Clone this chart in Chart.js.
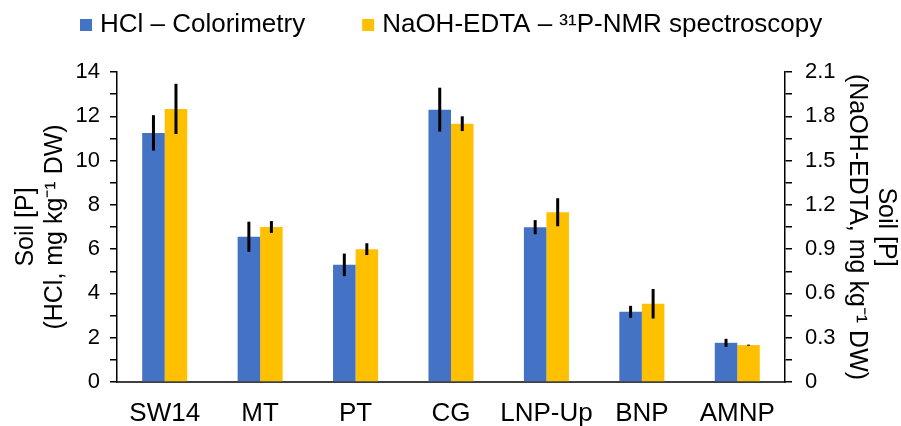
<!DOCTYPE html>
<html>
<head>
<meta charset="utf-8">
<script src="https://cdn.jsdelivr.net/npm/chart.js@4.4.1/dist/chart.umd.min.js"></script>
<style>
  html, body { margin: 0; padding: 0; background: #ffffff; }
  #wrap { width: 901px; height: 426px; }
</style>
</head>
<body>
<div id="wrap"><canvas id="chart" width="901" height="426"></canvas></div>
<script>
// Sampling sites
const sites = ['SW14', 'MT', 'PT', 'CG', 'LNP-Up', 'BNP', 'AMNP'];

// HCl extraction, colorimetry (mg kg-1 DW): mean and standard deviation
const hclMean = [11.25, 6.56, 5.29, 12.30, 6.99, 3.17, 1.77];
const hclSd   = [0.80, 0.68, 0.51, 0.99, 0.32, 0.27, 0.18];

// NaOH-EDTA extraction, 31P-NMR (mg kg-1 DW): mean and standard deviation
const nmrMean = [1.85, 1.05, 0.90, 1.75, 1.15, 0.53, 0.25];
const nmrSd   = [0.17, 0.04, 0.04, 0.05, 0.095, 0.10, 0.003];

// Labelled ticks on both value axes (unlabelled minor ticks sit between them)
const leftTickLabels  = ['0', '2', '4', '6', '8', '10', '12', '14'];
const rightTickLabels = ['0', '0.3', '0.6', '0.9', '1.2', '1.5', '1.8', '2.1'];

const seriesLabels = ['HCl \u2013 Colorimetry', 'NaOH-EDTA \u2013 \u00B3\u00B9P-NMR spectroscopy'];
const seriesColors = ['#4472C4', '#FFC000'];

const FONT = '"Liberation Sans", Arial, sans-serif';

function labelFor(list, value) {
  const hit = list.find(t => Math.abs(Number(t) - value) < 1e-6);
  return hit === undefined ? '' : hit;
}

// Vertical error bars (mean ± SD) drawn over each bar
const errorBars = {
  id: 'errorBars',
  afterDatasetsDraw(chart) {
    const ctx = chart.ctx;
    ctx.save();
    ctx.strokeStyle = '#000000';
    ctx.lineWidth = 3;
    chart.data.datasets.forEach((ds, di) => {
      const meta = chart.getDatasetMeta(di);
      const yScale = chart.scales[meta.yAxisID];
      meta.data.forEach((bar, i) => {
        const v = ds.data[i], e = ds.errors[i];
        const yTop = yScale.getPixelForValue(v + e);
        const yBot = yScale.getPixelForValue(v - e);
        ctx.beginPath();
        ctx.moveTo(bar.x, yTop);
        ctx.lineTo(bar.x, Math.max(yBot, yTop + 1));
        ctx.stroke();
      });
    });
    ctx.restore();
  }
};

// Single-row legend across the top
const topLegend = {
  id: 'topLegend',
  afterDraw(chart) {
    const ctx = chart.ctx;
    ctx.save();
    ctx.font = '26px ' + FONT;
    ctx.textBaseline = 'middle';
    ctx.textAlign = 'left';
    const y = 25, box = 12, gap = 8, itemGap = 57;
    let x = 80;
    chart.data.datasets.forEach(ds => {
      ctx.fillStyle = ds.backgroundColor;
      ctx.fillRect(x, y - box / 2, box, box);
      ctx.fillStyle = '#000000';
      ctx.fillText(ds.label, x + box + gap, y);
      x += box + gap + ctx.measureText(ds.label).width + itemGap;
    });
    ctx.restore();
  }
};

new Chart(document.getElementById('chart'), {
  type: 'bar',
  data: {
    labels: sites,
    datasets: [
      {
        label: seriesLabels[0],
        data: hclMean,
        errors: hclSd,
        backgroundColor: seriesColors[0],
        yAxisID: 'y',
        categoryPercentage: 0.472,
        barPercentage: 1.0
      },
      {
        label: seriesLabels[1],
        data: nmrMean,
        errors: nmrSd,
        backgroundColor: seriesColors[1],
        yAxisID: 'y1',
        categoryPercentage: 0.472,
        barPercentage: 1.0
      }
    ]
  },
  options: {
    responsive: false,
    animation: false,
    devicePixelRatio: 1,
    layout: { padding: { top: 72, left: 0, right: 0, bottom: 0 } },
    plugins: {
      legend: { display: false },
      tooltip: { enabled: false }
    },
    scales: {
      x: {
        grid: { display: false, drawTicks: false },
        border: { display: true, color: '#404040', width: 2 },
        ticks: {
          color: '#000000', font: { size: 26, family: FONT }, padding: 16,
          autoSkip: false, maxRotation: 0, minRotation: 0
        },
        afterFit: s => { s.height = 44; }
      },
      y: {
        position: 'left',
        min: 0, max: 14,
        grid: { drawOnChartArea: false, drawTicks: true, tickLength: 7, color: '#000000', lineWidth: 1.5 },
        border: { display: true, color: '#000000', width: 1.5 },
        ticks: {
          stepSize: 1, autoSkip: false, padding: 10, color: '#000000',
          font: { size: 22, family: FONT },
          callback: v => labelFor(leftTickLabels, v)
        },
        title: {
          display: true,
          text: ['Soil [P]', '(HCl, mg kg\u207B\u00B9 DW)'],
          color: '#000000',
          font: { size: 25, family: FONT, lineHeight: 1.15 },
          padding: { top: 12, bottom: 0 }
        },
        afterFit: s => { s.width = 117; }
      },
      y1: {
        position: 'right',
        min: 0, max: 2.1,
        grid: { drawOnChartArea: false, drawTicks: true, tickLength: 7, color: '#000000', lineWidth: 1.5 },
        border: { display: true, color: '#000000', width: 1.5 },
        ticks: {
          stepSize: 0.15, autoSkip: false, padding: 13, color: '#000000',
          font: { size: 22, family: FONT },
          callback: v => labelFor(rightTickLabels, v)
        },
        title: {
          display: true,
          text: ['Soil [P]', '(NaOH-EDTA, mg kg\u207B\u00B9 DW)'],
          color: '#000000',
          font: { size: 25, family: FONT, lineHeight: 1.15 },
          padding: { top: 1, bottom: 0 }
        },
        afterFit: s => { s.width = 116; }
      }
    }
  },
  plugins: [errorBars, topLegend]
});
</script>
</body>
</html>
